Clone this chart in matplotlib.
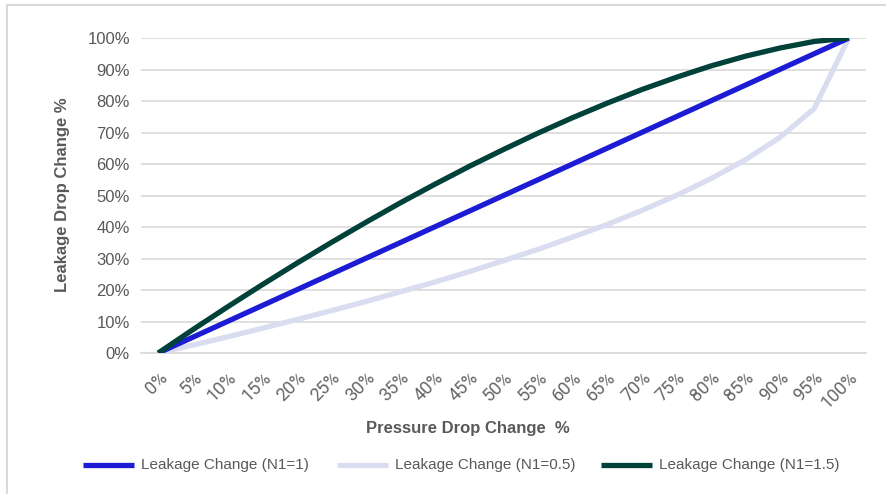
import matplotlib
matplotlib.use("Agg")
import matplotlib.pyplot as plt
from matplotlib.lines import Line2D

categories = ["0%", "5%", "10%", "15%", "20%", "25%", "30%", "35%", "40%", "45%", "50%",
              "55%", "60%", "65%", "70%", "75%", "80%", "85%", "90%", "95%", "100%"]
n1_10 = [0, 5, 10, 15, 20, 25, 30, 35, 40, 45, 50, 55, 60, 65, 70, 75, 80, 85, 90, 95, 100]
n1_05 = [0, 2.5, 5.1, 7.8, 10.6, 13.4, 16.3, 19.4, 22.5, 25.8, 29.3, 32.9, 36.8, 40.8,
         45.2, 50.0, 55.3, 61.3, 68.4, 77.6, 100]
n1_15 = [0, 7.4, 14.6, 21.6, 28.4, 35.0, 41.4, 47.6, 53.5, 59.2, 64.6, 69.8, 74.7, 79.3,
         83.6, 87.5, 91.1, 94.2, 96.8, 98.9, 100]
yticks = [0, 10, 20, 30, 40, 50, 60, 70, 80, 90, 100]
series_names = ["Leakage Change (N1=1)", "Leakage Change (N1=0.5)", "Leakage Change (N1=1.5)"]
colors = ["#1c1cd4", "#d9ddef", "#00413a"]

W, H = 886, 494
fig = plt.figure(figsize=(W / 100, H / 100), dpi=100)
ax = fig.add_axes([141 / W, 1 - 353 / H, (866 - 141) / W, (353 - 38) / H])

x = list(range(len(categories)))
lw = 3.8
ax.plot(x, n1_05, color=colors[1], lw=lw, solid_capstyle="butt", zorder=3)
ax.plot(x, n1_10, color=colors[0], lw=lw, solid_capstyle="butt", zorder=4)
ax.plot(x, n1_15, color=colors[2], lw=lw, solid_capstyle="butt", zorder=5)

ax.set_xlim(-0.5, len(categories) - 0.5)
ax.set_ylim(0, 100)
ax.set_yticks(yticks)
ax.set_yticklabels([f"{v}%" for v in yticks], fontsize=12, color="#595959",
                   family="Liberation Sans")
ax.set_xticks(x)
ax.set_xticklabels(categories, rotation=45, ha="right", va="top", rotation_mode="anchor",
                   fontsize=13, color="#666666", family="Roboto", fontweight="normal")
ax.tick_params(axis="both", length=0, pad=8)
ax.tick_params(axis="x", pad=11)
ax.grid(axis="y", color="#d9d9d9", lw=1.2)
ax.set_axisbelow(True)
for s in ax.spines.values():
    s.set_visible(False)
ax.spines["bottom"].set_visible(True)
ax.spines["bottom"].set_color("#d9d9d9")
ax.spines["bottom"].set_linewidth(1.2)

fig.text(468 / W, 1 - 428 / H, "Pressure Drop Change  %", ha="center", va="center",
         fontsize=12, fontweight="bold", color="#595959", family="Liberation Sans")
fig.text(63 / W, 1 - 195 / H, "Leakage Drop Change %", ha="center", va="center",
         rotation=90, fontsize=12, fontweight="bold", color="#595959",
         family="Liberation Sans")

# legend
leg_y = 1 - 465 / H
starts = [83, 337, 601]
for sx, name, c in zip(starts, series_names, colors):
    fig.add_artist(Line2D([sx / W, (sx + 51) / W], [leg_y, leg_y], color=c, lw=lw,
                          solid_capstyle="butt", transform=fig.transFigure))
    fig.text((sx + 58) / W, leg_y, name, ha="left", va="center", fontsize=11,
             color="#595959", family="Liberation Sans")

# outer border (left and top only visible)
fig.add_artist(Line2D([7 / W, 7 / W], [0, 1 - 5 / H], color="#d9d9d9", lw=1.5,
                      transform=fig.transFigure))
fig.add_artist(Line2D([7 / W, 1], [1 - 5 / H, 1 - 5 / H], color="#d9d9d9", lw=1.5,
                      transform=fig.transFigure))

fig.savefig("out.png", dpi=100, facecolor="white")
